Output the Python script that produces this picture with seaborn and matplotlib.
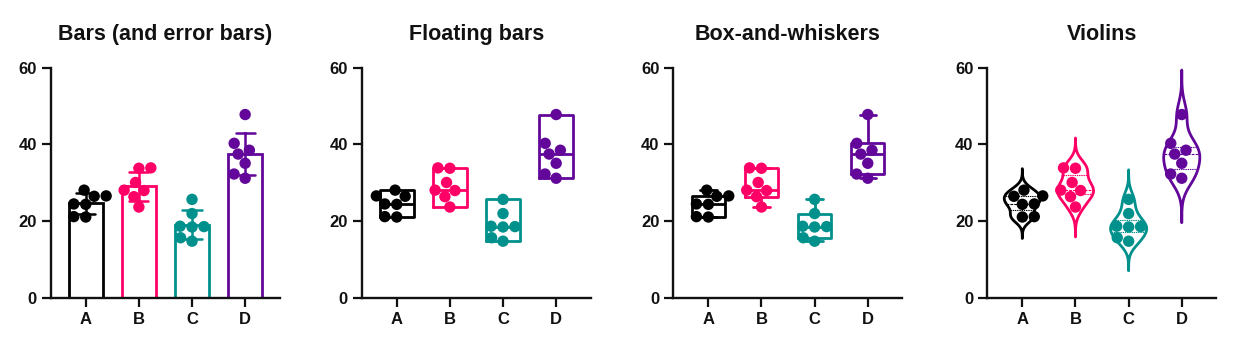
import numpy as np
import pandas as pd
import matplotlib
matplotlib.use("Agg")
import matplotlib.pyplot as plt
import matplotlib.cbook as cbook
import seaborn as sns

# ---------------- data ----------------
groups = ["A", "B", "C", "D"]
values_A = [28.1, 26.6, 26.5, 24.5, 24.4, 21.2, 21.1]
values_B = [33.9, 33.8, 30.1, 28.1, 28.0, 26.4, 23.7]
values_C = [25.7, 22.0, 18.7, 18.6, 18.5, 15.7, 14.8]
values_D = [47.8, 40.3, 38.5, 37.5, 35.1, 32.3, 31.2]
colors = ["#000000", "#FF0066", "#00918D", "#62079A"]
titles = ["Bars (and error bars)", "Floating bars", "Box-and-whiskers", "Violins"]
y_ticks = [0, 20, 40, 60]

all_values = [values_A, values_B, values_C, values_D]
df = pd.DataFrame({
    "group": np.repeat(groups, [len(v) for v in all_values]),
    "value": np.concatenate(all_values),
})
palette = dict(zip(groups, colors))

# ---------------- style ----------------
sns.set_theme(style="ticks")
plt.rcParams["font.family"] = ["Liberation Sans", "DejaVu Sans"]
plt.rcParams["font.weight"] = "bold"
plt.rcParams["text.color"] = "#111111"

# Prism-style box statistics (quartiles with the (n+1)p rule, whiskers min-max)
_orig_stats = cbook.boxplot_stats


def make_stats(mode):
    def stats(X, *args, **kwargs):
        out = _orig_stats(X, *args, **kwargs)
        for st, x in zip(out, X):
            x = np.asarray(x, dtype=float)
            if mode == "float":
                st["q1"], st["q3"] = x.min(), x.max()
            else:
                st["q1"], st["q3"] = np.percentile(x, [25, 75], method="weibull")
            st["med"] = np.median(x)
            st["whislo"], st["whishi"] = x.min(), x.max()
            st["fliers"] = np.array([])
        return out
    return stats


fig = plt.figure(figsize=(12.42, 3.53), dpi=100)
lefts = [0.0408, 0.2912, 0.5421, 0.7949]
axes = [fig.add_axes([l, 0.1558, 0.1844, 0.6524]) for l in lefts]

LW = 2.0
swarm_size = 8.2

# Panel 1: bars + SD error bars
ax = axes[0]
sns.barplot(data=df, x="group", y="value", hue="group", palette=palette,
            order=groups, hue_order=groups, fill=False, width=0.64,
            linewidth=LW, errorbar="sd", capsize=0.36,
            err_kws={"linewidth": 1.8}, legend=False, ax=ax)

# Panel 2: floating bars (min to max, line at median)
ax = axes[1]
cbook.boxplot_stats = make_stats("float")
sns.boxplot(data=df, x="group", y="value", hue="group", palette=palette,
            order=groups, hue_order=groups, fill=False, width=0.64,
            linewidth=LW, whis=(0, 100), showcaps=False, legend=False, ax=ax)

# Panel 3: box-and-whiskers
ax = axes[2]
cbook.boxplot_stats = make_stats("box")
sns.boxplot(data=df, x="group", y="value", hue="group", palette=palette,
            order=groups, hue_order=groups, fill=False, width=0.62,
            linewidth=LW, whis=(0, 100), legend=False, ax=ax)
cbook.boxplot_stats = _orig_stats

# Panel 4: violins
ax = axes[3]
sns.violinplot(data=df, x="group", y="value", hue="group", palette=palette,
               order=groups, hue_order=groups, fill=False, inner="quart",
               cut=3.6, bw_adjust=0.85, density_norm="width", width=0.68,
               linewidth=LW, inner_kws={"linewidth": 0.8}, legend=False, ax=ax)

for ax, title in zip(axes, titles):
    sns.swarmplot(data=df, x="group", y="value", hue="group", palette=palette,
                  order=groups, hue_order=groups, size=swarm_size,
                  legend=False, ax=ax, zorder=5)
    ax.set_xlim(-0.66, 3.65)
    ax.set_ylim(0, 60)
    ax.set_yticks(y_ticks)
    ax.set_xlabel("")
    ax.set_ylabel("")
    ax.set_title(title, fontsize=15.5, fontweight="bold", pad=20, color="#111111")
    sns.despine(ax=ax)
    for side in ["left", "bottom"]:
        ax.spines[side].set_linewidth(1.7)
        ax.spines[side].set_color("#111111")
    ax.tick_params(axis="both", length=6.5, width=1.6, color="#111111",
                   labelsize=12, labelcolor="#111111")
    for lab in ax.get_xticklabels() + ax.get_yticklabels():
        lab.set_fontweight("bold")

fig.savefig("out.png", dpi=100)
